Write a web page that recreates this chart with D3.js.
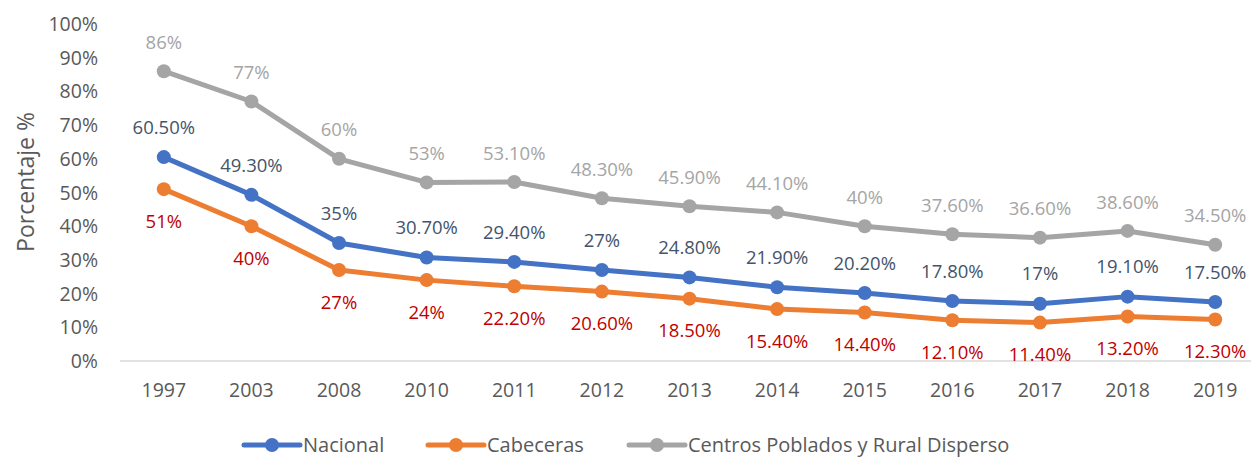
<!DOCTYPE html>
<html>
<head>
<meta charset="utf-8">
<script src="https://cdn.jsdelivr.net/npm/d3@7"></script>
<style>
  body { margin: 0; background: #fff; }
  svg { display: block; }
</style>
</head>
<body>
<div id="chart"></div>
<script>
const years = ['1997', '2003', '2008', '2010', '2011', '2012', '2013', '2014', '2015', '2016', '2017', '2018', '2019'];
const nacional = [60.5, 49.3, 35, 30.7, 29.4, 27, 24.8, 21.9, 20.2, 17.8, 17, 19.1, 17.5];
const cabeceras = [51, 40, 27, 24, 22.2, 20.6, 18.5, 15.4, 14.4, 12.1, 11.4, 13.2, 12.3];
const rural = [86, 77, 60, 53, 53.1, 48.3, 45.9, 44.1, 40, 37.6, 36.6, 38.6, 34.5];
const nacionalLabels = ['60.50%', '49.30%', '35%', '30.70%', '29.40%', '27%', '24.80%', '21.90%', '20.20%', '17.80%', '17%', '19.10%', '17.50%'];
const cabecerasLabels = ['51%', '40%', '27%', '24%', '22.20%', '20.60%', '18.50%', '15.40%', '14.40%', '12.10%', '11.40%', '13.20%', '12.30%'];
const ruralLabels = ['86%', '77%', '60%', '53%', '53.10%', '48.30%', '45.90%', '44.10%', '40%', '37.60%', '36.60%', '38.60%', '34.50%'];
const yTicks = [0, 10, 20, 30, 40, 50, 60, 70, 80, 90, 100];

const width = 1251, height = 457;
const font = '"Open Sans", sans-serif';

const series = [
  { name: 'Nacional', values: nacional, labels: nacionalLabels, color: '#4472C4', labelColor: '#44546A', dy: -30 },
  { name: 'Cabeceras', values: cabeceras, labels: cabecerasLabels, color: '#ED7D31', labelColor: '#C00000', dy: 32 },
  { name: 'Centros Poblados y Rural Disperso', values: rural, labels: ruralLabels, color: '#A5A5A5', labelColor: '#A5A5A5', dy: -29 }
];

const svg = d3.select('#chart').append('svg')
  .attr('width', width)
  .attr('height', height);

const x = d3.scaleBand().domain(years).range([120, 1259]);
const y = d3.scaleLinear().domain([0, 100]).range([361, 24]);

// baseline
svg.append('line')
  .attr('x1', 120).attr('x2', 1259)
  .attr('y1', y(0)).attr('y2', y(0))
  .attr('stroke', '#D9D9D9')
  .attr('stroke-width', 1.3);

// y ticks
svg.append('g')
  .selectAll('text')
  .data(yTicks)
  .enter()
  .append('text')
  .attr('x', 98)
  .attr('y', d => y(d))
  .attr('dy', '0.36em')
  .attr('text-anchor', 'end')
  .attr('fill', '#595959')
  .attr('font-family', font)
  .attr('font-size', '19.5px')
  .text(d => d + '%');

// x ticks
svg.append('g')
  .selectAll('text')
  .data(years)
  .enter()
  .append('text')
  .attr('x', d => x(d) + x.bandwidth() / 2)
  .attr('y', 397)
  .attr('text-anchor', 'middle')
  .attr('fill', '#595959')
  .attr('font-family', font)
  .attr('font-size', '19.5px')
  .text(d => d);

// axis title
svg.append('text')
  .attr('transform', 'translate(34,182) rotate(-90)')
  .attr('text-anchor', 'middle')
  .attr('fill', '#595959')
  .attr('font-family', font)
  .attr('font-size', '23px')
  .text('Porcentaje %');

const cx = (d, i) => x(years[i]) + x.bandwidth() / 2;
const line = d3.line().x(cx).y(d => y(d));

// draw rural first so it sits behind
[series[2], series[1], series[0]].forEach(s => {
  const g = svg.append('g');
  g.append('path')
    .datum(s.values)
    .attr('fill', 'none')
    .attr('stroke', s.color)
    .attr('stroke-width', 5)
    .attr('stroke-linejoin', 'round')
    .attr('d', line);
  g.selectAll('circle')
    .data(s.values)
    .enter()
    .append('circle')
    .attr('cx', cx)
    .attr('cy', d => y(d))
    .attr('r', 7)
    .attr('fill', s.color);
});

series.forEach(s => {
  svg.append('g')
    .selectAll('text')
    .data(s.values)
    .enter()
    .append('text')
    .attr('x', cx)
    .attr('y', d => y(d) + s.dy)
    .attr('dy', '0.36em')
    .attr('text-anchor', 'middle')
    .attr('fill', s.labelColor)
    .attr('font-family', font)
    .attr('font-size', '18.5px')
    .text((d, i) => s.labels[i]);
});

// legend
const legendX = [244, 428, 629];
const legend = svg.append('g');
series.forEach((s, i) => {
  const lg = legend.append('g').attr('transform', `translate(${legendX[i]},445)`);
  lg.append('line')
    .attr('x1', 0).attr('x2', 56)
    .attr('stroke', s.color)
    .attr('stroke-width', 5)
    .attr('stroke-linecap', 'round');
  lg.append('circle')
    .attr('cx', 28)
    .attr('r', 7)
    .attr('fill', s.color);
  lg.append('text')
    .attr('x', 59)
    .attr('dy', '0.36em')
    .attr('fill', '#595959')
    .attr('font-family', font)
    .attr('font-size', '20px')
    .text(s.name);
});
</script>
</body>
</html>
